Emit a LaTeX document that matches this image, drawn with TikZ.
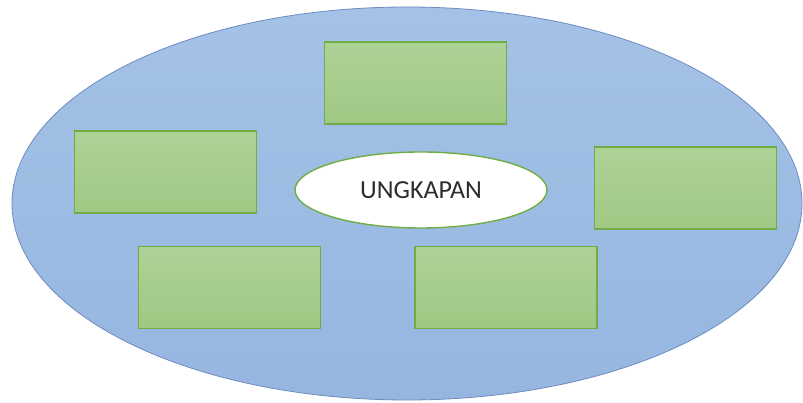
\documentclass[tikz,border=0pt]{standalone}
\usepackage{fontspec}
\setmainfont{Carlito}
\usetikzlibrary{shapes.geometric}

\definecolor{ovalblue}{RGB}{164,194,230}
\definecolor{ovalblueD}{RGB}{150,182,224}
\definecolor{ovalline}{RGB}{110,140,190}
\definecolor{boxgreen}{RGB}{174,210,150}
\definecolor{boxgreenD}{RGB}{160,200,132}
\definecolor{boxline}{RGB}{112,173,71}
\definecolor{keytext}{RGB}{45,45,45}

\begin{document}
\begin{tikzpicture}[x=1pt, y=1pt,
    ideabox/.style={draw=boxline, line width=1.2pt, top color=boxgreen, bottom color=boxgreenD,
      minimum width=182pt, minimum height=82pt, inner sep=0pt},
    keyword/.style={ellipse, draw=boxline, line width=1.4pt, fill=white, text=keytext,
      minimum width=252pt, minimum height=76pt, inner sep=0pt,
      font=\fontsize{26}{30}\selectfont}]

      % Page size (as in the reference)
      \useasboundingbox (0,0) rectangle (803,403);

      % Big background oval
      \coordinate (O) at (407,199.5);
      \draw[ovalline, line width=0.8pt, top color=ovalblue, bottom color=ovalblueD]
        (O) ellipse [x radius=395, y radius=196.5];

      % Boxes around the keyword
      \node[ideabox] (top)    at (415.5,320) {};
      \node[ideabox] (left)   at (165.5,231) {};
      \node[ideabox] (right)  at (685.5,215) {};
      \node[ideabox] (bleft)  at (229.5,115.5) {};
      \node[ideabox] (bright) at (506,115.5) {};

      % Centre keyword
      \node[keyword] (key) at (421,213) {UNGKAPAN};

    \end{tikzpicture}
\end{document}
